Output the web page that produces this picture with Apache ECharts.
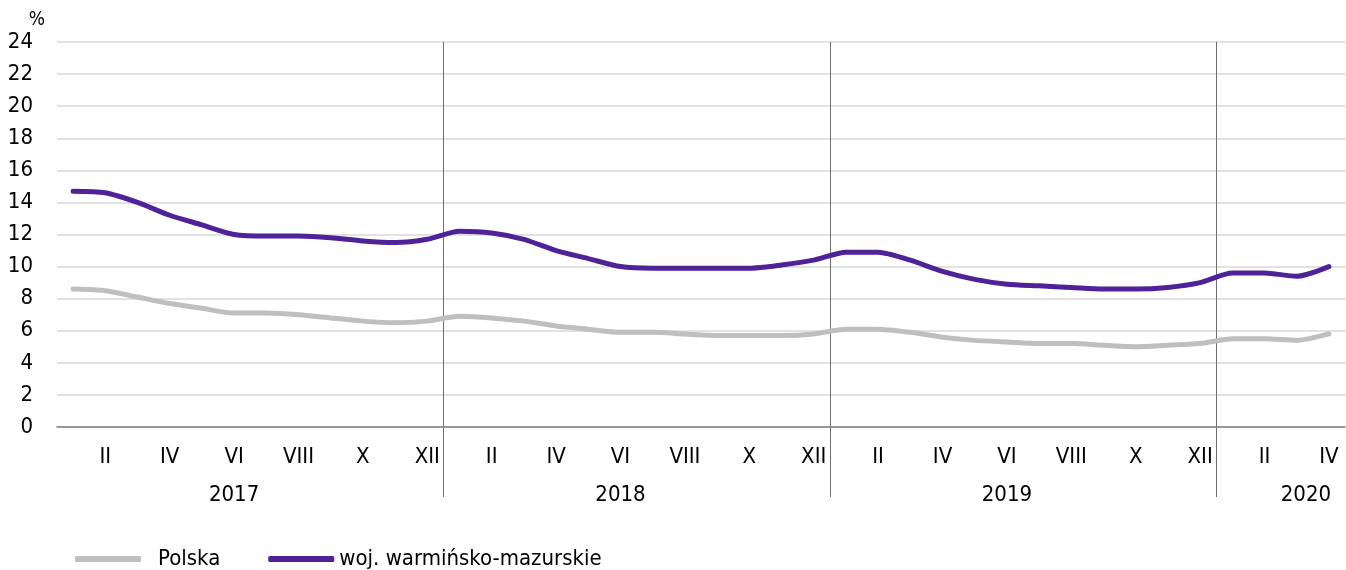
<!DOCTYPE html>
<html>
<head>
<meta charset="utf-8">
<script src="https://cdn.jsdelivr.net/npm/echarts@6/dist/echarts.min.js"></script>
<style>
  html, body { margin: 0; padding: 0; background: #fff; }
  #main { width: 1346px; height: 570px; }
</style>
</head>
<body>
<div id="main"></div>
<script>
// miesiące i lata na osi X
const romanMonths = ['I', 'II', 'III', 'IV', 'V', 'VI', 'VII', 'VIII', 'IX', 'X', 'XI', 'XII']
const years = ['2017', '2018', '2019', '2020']
const monthsPerYear = [12, 12, 12, 4]
// indeks miesiąca, pod którym stoi podpis roku (ostatni przesunięty w lewo)
const yearLabelAt = [5, 17, 29, 39]
const yTicks = { min: 0, max: 24, interval: 2 }

// stopa bezrobocia, %
const polska = [
  8.6, 8.5, 8.1, 7.7, 7.4, 7.1, 7.1, 7.0, 6.8, 6.6, 6.5, 6.6,
  6.9, 6.8, 6.6, 6.3, 6.1, 5.9, 5.9, 5.8, 5.7, 5.7, 5.7, 5.8,
  6.1, 6.1, 5.9, 5.6, 5.4, 5.3, 5.2, 5.2, 5.1, 5.0, 5.1, 5.2,
  5.5, 5.5, 5.4, 5.8
]
const warmMaz = [
  14.7, 14.6, 14.0, 13.2, 12.6, 12.0, 11.9, 11.9, 11.8, 11.6, 11.5, 11.7,
  12.2, 12.1, 11.7, 11.0, 10.5, 10.0, 9.9, 9.9, 9.9, 9.9, 10.1, 10.4,
  10.9, 10.9, 10.4, 9.7, 9.2, 8.9, 8.8, 8.7, 8.6, 8.6, 8.7, 9.0,
  9.6, 9.6, 9.4, 10.0
]

const categories = []
years.forEach((y, yi) => {
  for (let m = 0; m < monthsPerYear[yi]; m++) {
    categories.push(y + ' ' + romanMonths[m])
  }
})
// granice miesięcy (do pionowych linii oddzielających lata)
const boundaries = categories.map((c, i) => i).concat([categories.length])

const font = "'Liberation Sans Narrow', 'DejaVu Sans Condensed', Roboto, sans-serif"
const isYearStart = (i) => i > 0 && i % 12 === 0
const fs = 22
const lastIdx = categories.length - 1

const myChart = echarts.init(document.getElementById('main'))
myChart.setOption({
  animation: false,
  textStyle: { fontFamily: font },
  grid: [
    { left: 57, right: 1, top: 42, bottom: 143, outerBoundsMode: 'none', containLabel: false },
    // ta sama szerokość, ale sięga niżej – linie lat
    { left: 57, right: 1, top: 42, bottom: 73, outerBoundsMode: 'none', containLabel: false }
  ],
  legend: {
    left: 70,
    top: 543,
    itemWidth: 66,
    itemHeight: 6,
    itemGap: 48,
    icon: 'roundRect',
    textStyle: { color: '#000', fontSize: fs, fontFamily: font },
    data: [
      { name: 'Polska', textStyle: { padding: [0, 0, 0, 12] } },
      { name: 'woj. warmińsko-mazurskie' }
    ]
  },
  xAxis: [
    {
      type: 'category',
      data: categories,
      boundaryGap: true,
      axisLine: { lineStyle: { color: '#808080', width: 1.5 } },
      axisTick: { interval: 0, length: 6, lineStyle: { color: '#808080', width: 1.5 } },
      axisLabel: {
        interval: (i) => i % 2 === 1,
        hideOverlap: false,
        showMaxLabel: true,
        margin: 11,
        lineHeight: 38,
        color: '#000',
        fontSize: fs,
        fontFamily: font,
        formatter: (v, i) => {
          const parts = v.split(' ')
          if (!yearLabelAt.includes(i)) return parts[1]
          if (i === lastIdx) return parts[1] + '\n{y|' + parts[0] + '}'
          return parts[1] + '\n' + parts[0]
        },
        rich: {
          y: { fontSize: fs, fontFamily: font, color: '#000', lineHeight: 38, padding: [0, 46, 0, 0] }
        }
      },
      splitLine: { show: false }
    },
    {
      type: 'category',
      gridIndex: 1,
      data: boundaries,
      boundaryGap: false,
      axisLine: { show: false },
      axisTick: { show: false },
      axisLabel: { show: false },
      splitLine: {
        show: true,
        interval: isYearStart,
        lineStyle: { color: '#707070', width: 1 }
      }
    }
  ],
  yAxis: [
    {
      type: 'value',
      min: yTicks.min,
      max: yTicks.max,
      interval: yTicks.interval,
      name: '%',
      nameLocation: 'end',
      nameGap: 12,
      nameTextStyle: { color: '#000', fontSize: 19, fontFamily: font, align: 'right', padding: [0, 12, 0, 0] },
      axisLine: { show: false },
      axisTick: { show: false },
      axisLabel: { color: '#000', fontSize: fs, fontFamily: font, margin: 24 },
      splitLine: { lineStyle: { color: '#d9d9d9', width: 1.5 } }
    },
    {
      type: 'category',
      gridIndex: 1,
      data: [''],
      show: false
    }
  ],
  series: [
    {
      name: 'Polska',
      type: 'line',
      data: polska,
      smooth: 0.25,
      symbol: 'none',
      color: '#bfbfbf',
      lineStyle: { width: 5, color: '#bfbfbf', cap: 'round' }
    },
    {
      name: 'woj. warmińsko-mazurskie',
      type: 'line',
      data: warmMaz,
      smooth: 0.25,
      symbol: 'none',
      color: '#4f2297',
      lineStyle: { width: 5, color: '#4f2297', cap: 'round' }
    }
  ]
})
</script>
</body>
</html>
